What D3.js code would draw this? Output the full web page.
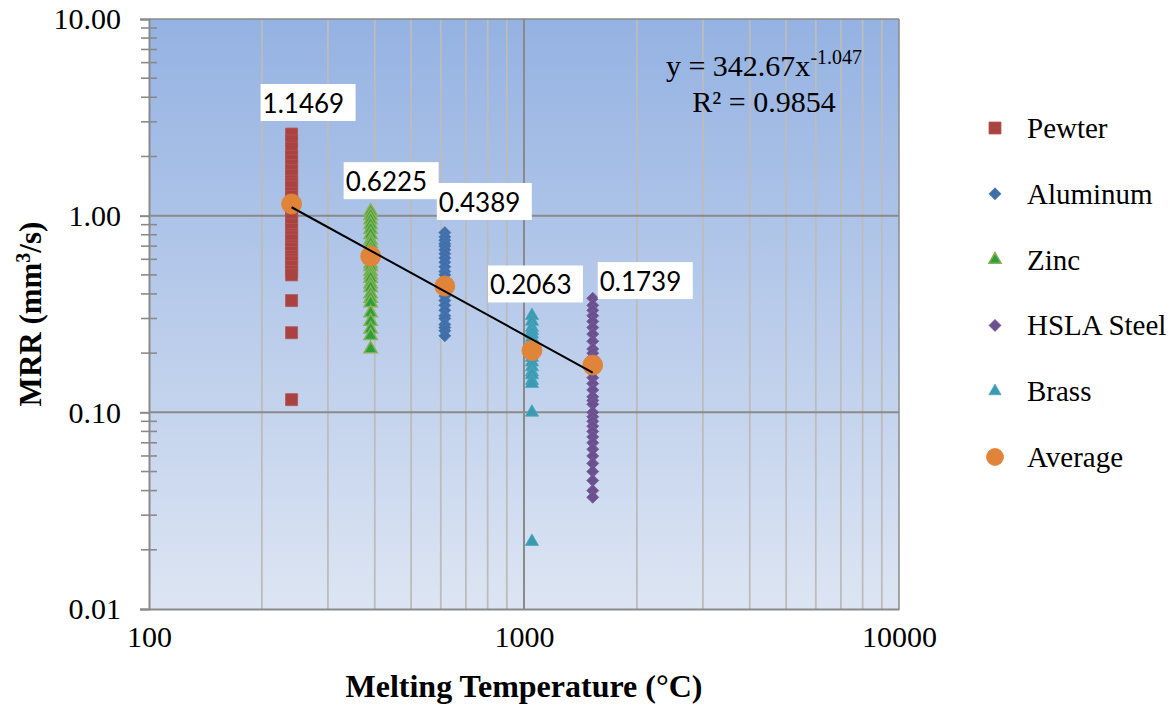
<!DOCTYPE html>
<html>
<head>
<meta charset="utf-8">
<script src="https://cdn.jsdelivr.net/npm/d3@7"></script>
<style>
  body { margin: 0; background: #fff; }
</style>
</head>
<body>
<div id="chart"></div>
<script>
// Данные
const seriesNames = ['Pewter', 'Aluminum', 'Zinc', 'HSLA Steel', 'Brass', 'Average'];
const meltTemps = [240, 615, 390, 1525, 1050];

const pewterMRR = [2.6, 2.4, 2.2, 2.0, 1.9, 1.8, 1.7, 1.6, 1.5, 1.45, 1.4, 1.3, 1.25, 1.2, 1.15,
    1.1, 1.05, 1.0, 0.95, 0.9, 0.85, 0.8, 0.78, 0.75, 0.7, 0.68, 0.65, 0.62, 0.6, 0.58,
    0.55, 0.52, 0.5, 0.37, 0.254, 0.116];
const aluminumMRR = [0.82, 0.78, 0.75, 0.72, 0.7, 0.67, 0.64, 0.61, 0.58, 0.55, 0.52, 0.5, 0.47,
    0.45, 0.43, 0.41, 0.39, 0.37, 0.35, 0.33, 0.31, 0.3, 0.28, 0.27, 0.26, 0.245];
const zincMRR = [1.05, 1.0, 0.95, 0.9, 0.85, 0.8, 0.75, 0.72, 0.68, 0.65, 0.62, 0.6, 0.57, 0.55,
    0.52, 0.5, 0.48, 0.45, 0.43, 0.4, 0.38, 0.36, 0.32, 0.29, 0.265, 0.245, 0.21];
const hslaMRR = [0.38, 0.35, 0.33, 0.31, 0.29, 0.27, 0.25, 0.23, 0.21, 0.2, 0.19, 0.18, 0.17,
    0.16, 0.15, 0.14, 0.13, 0.12, 0.115, 0.11, 0.1, 0.095, 0.09, 0.085, 0.08, 0.075, 0.07,
    0.065, 0.06, 0.055, 0.05, 0.045, 0.04, 0.037];
const brassMRR = [0.31, 0.29, 0.27, 0.26, 0.25, 0.24, 0.23, 0.22, 0.21, 0.2, 0.19, 0.18, 0.17,
    0.16, 0.155, 0.145, 0.14, 0.1, 0.022];

const avgTemps = [240, 390, 615, 1050, 1525];
const avgMRR = [1.1469, 0.6225, 0.4389, 0.2063, 0.1739];

const fitA = 342.67, fitB = -1.047, fitR2 = 0.9854;

const xTicks = [100, 1000, 10000];
const yTicks = [0.01, 0.1, 1, 10];

// Оформление
const SERIF = '"Liberation Serif", "Times New Roman", serif';
const colors = ['#a94341', '#3f6ea9', '#2f9f38', '#6b4f8f', '#3a9ab2', '#e0843a'];
const strokes = ['#b55553', '#4b7ab5', '#86b257', '#7a5f9c', '#4aa8bf', '#e0843a'];
const shapes = ['square', 'diamond', 'triangle', 'diamond', 'triangle', 'circle'];
// смещения подписей средних значений (px от точки)
const labelOffsets = [[-31, -120], [-27, -94], [-8, -103], [-44, -85], [5, -103]];

const W = 1176, H = 710;
const plot = { left: 149, right: 899, top: 19, bottom: 609 };

const svg = d3.select('#chart').append('svg')
    .attr('width', W).attr('height', H)
    .attr('font-family', SERIF);

const x = d3.scaleLog().domain([100, 10000]).range([plot.left, plot.right]);
const y = d3.scaleLog().domain([0.01, 10]).range([plot.bottom, plot.top]);

// Фон с градиентом
const grad = svg.append('defs').append('linearGradient')
    .attr('id', 'bg').attr('x1', 0).attr('y1', 0).attr('x2', 0).attr('y2', 1);
grad.append('stop').attr('offset', '0%').attr('stop-color', '#94b2e2');
grad.append('stop').attr('offset', '100%').attr('stop-color', '#dde5f3');

svg.append('rect')
    .attr('x', plot.left).attr('y', plot.top)
    .attr('width', plot.right - plot.left).attr('height', plot.bottom - plot.top)
    .attr('fill', 'url(#bg)');

// Сетка: вертикальные вспомогательные линии
const xMinor = [];
[100, 1000].forEach(d => { for (let k = 2; k <= 9; k++) xMinor.push(d * k); });
svg.append('g').selectAll('line').data(xMinor).join('line')
    .attr('x1', d => x(d)).attr('x2', d => x(d))
    .attr('y1', plot.top).attr('y2', plot.bottom)
    .attr('stroke', '#bcbcbc').attr('stroke-width', 1.8);

svg.append('g').selectAll('line').data([1000]).join('line')
    .attr('x1', d => x(d)).attr('x2', d => x(d))
    .attr('y1', plot.top).attr('y2', plot.bottom)
    .attr('stroke', '#8a8a8a').attr('stroke-width', 2);

svg.append('g').selectAll('line').data([0.1, 1]).join('line')
    .attr('x1', plot.left).attr('x2', plot.right)
    .attr('y1', d => y(d)).attr('y2', d => y(d))
    .attr('stroke', '#8a8a8a').attr('stroke-width', 2);

// Рамка
svg.append('line').attr('x1', plot.left).attr('x2', plot.right)
    .attr('y1', plot.top).attr('y2', plot.top).attr('stroke', '#8a8a8a').attr('stroke-width', 1.5);
svg.append('line').attr('x1', plot.right).attr('x2', plot.right)
    .attr('y1', plot.top).attr('y2', plot.bottom).attr('stroke', '#8a8a8a').attr('stroke-width', 1.5);

// Ось Y
const yAxis = svg.append('g').attr('transform', `translate(${plot.left},0)`)
    .call(d3.axisLeft(y).tickValues(yTicks).tickFormat(d3.format('.2f')).tickSize(9).tickPadding(19));
yAxis.attr('font-family', SERIF);
yAxis.select('.domain').attr('stroke', '#8a8a8a').attr('stroke-width', 2);
yAxis.selectAll('.tick line').attr('stroke', '#8a8a8a').attr('stroke-width', 2);
yAxis.selectAll('.tick text')
    .attr('font-family', SERIF).attr('font-size', 30)
    .attr('fill', '#000').attr('dy', '0.33em');

const yMinor = [];
[0.01, 0.1, 1].forEach(d => { for (let k = 2; k <= 9; k++) yMinor.push(d * k); });
svg.append('g').selectAll('line').data(yMinor).join('line')
    .attr('x1', plot.left - 8).attr('x2', plot.left + 8)
    .attr('y1', d => y(d)).attr('y2', d => y(d))
    .attr('stroke', '#8a8a8a').attr('stroke-width', 1.6);

// Ось X
const xAxis = svg.append('g').attr('transform', `translate(0,${plot.bottom})`)
    .call(d3.axisBottom(x).tickValues(xTicks).tickFormat(d3.format('d')).tickSize(0).tickPadding(38));
xAxis.attr('font-family', SERIF);
xAxis.select('.domain').attr('stroke', '#8a8a8a').attr('stroke-width', 2);
xAxis.selectAll('.tick text')
    .attr('font-family', SERIF).attr('font-size', 30)
    .attr('fill', '#000').attr('dy', 0);

// Подписи осей
svg.append('text')
    .attr('x', (plot.left + plot.right) / 2).attr('y', 697)
    .attr('text-anchor', 'middle').attr('font-family', SERIF)
    .attr('font-size', 32).attr('font-weight', 'bold')
    .text('Melting Temperature (°C)');

const yTitle = svg.append('text')
    .attr('transform', `translate(41,${(plot.top + plot.bottom) / 2}) rotate(-90)`)
    .attr('text-anchor', 'middle').attr('font-family', SERIF)
    .attr('font-size', 31).attr('font-weight', 'bold');
yTitle.append('tspan').text('MRR (mm');
yTitle.append('tspan').attr('font-size', 20).attr('dy', -11).text('3');
yTitle.append('tspan').attr('dy', 11).text('/s)');

// Маркеры
function symbolPath(shape, size) {
    if (shape === 'square') return d3.symbol(d3.symbolSquare, size * size)();
    if (shape === 'diamond') return d3.symbol(d3.symbolSquare, size * size / 2)();
    if (shape === 'triangle') return d3.symbol(d3.symbolTriangle, size * size * 0.45)();
    return d3.symbol(d3.symbolCircle, Math.PI * size * size / 4)();
}
const markerSize = [12, 12, 13, 12, 13, 20];

function drawMarkers(g, i, pts) {
    g.selectAll('path').data(pts).join('path')
        .attr('d', symbolPath(shapes[i], markerSize[i]))
        .attr('transform', d => `translate(${x(d[0])},${y(d[1])})` + (shapes[i] === 'diamond' ? ' rotate(45)' : ''))
        .attr('fill', colors[i])
        .attr('stroke', strokes[i])
        .attr('stroke-width', i === 2 ? 1.5 : 0.8);
}

const rawSeries = [pewterMRR, aluminumMRR, zincMRR, hslaMRR, brassMRR];
rawSeries.forEach((vals, i) => {
    const pts = vals.map(v => [meltTemps[i], v]);
    drawMarkers(svg.append('g').attr('class', 'series-' + i), i, pts);
});

drawMarkers(svg.append('g').attr('class', 'average'), 5, avgTemps.map((t, j) => [t, avgMRR[j]]));

// Линия тренда (степенная аппроксимация)
const fitX = [avgTemps[0], avgTemps[avgTemps.length - 1]];
svg.append('path')
    .datum(fitX)
    .attr('d', d3.line().x(d => x(d)).y(d => y(fitA * Math.pow(d, fitB))))
    .attr('stroke', '#000').attr('stroke-width', 2).attr('fill', 'none');

// Подписи средних значений
const labels = svg.append('g').selectAll('g').data(avgTemps).join('g')
    .attr('transform', (d, j) => `translate(${x(d) + labelOffsets[j][0]},${y(avgMRR[j]) + labelOffsets[j][1]})`);
labels.append('rect').attr('width', 95).attr('height', 37).attr('fill', '#fff');
labels.append('text')
    .attr('x', 2).attr('y', 29)
    .attr('font-family', 'Lato, "Open Sans", sans-serif').attr('font-size', 26)
    .text((d, j) => avgMRR[j].toFixed(4));

// Уравнение тренда
const eq = svg.append('text').attr('x', 764).attr('y', 76)
    .attr('text-anchor', 'middle').attr('font-family', SERIF).attr('font-size', 30);
eq.append('tspan').text('y = ' + fitA + 'x');
eq.append('tspan').attr('font-size', 20).attr('dy', -12).text(fitB.toFixed(3));
svg.append('text').attr('x', 764).attr('y', 112)
    .attr('text-anchor', 'middle').attr('font-family', SERIF).attr('font-size', 30)
    .text('R² = ' + fitR2);

// Легенда
const legend = svg.append('g').selectAll('g').data(seriesNames).join('g')
    .attr('transform', (d, i) => `translate(995,${128 + i * 65.8})`);
legend.append('path')
    .attr('d', (d, i) => symbolPath(shapes[i], i === 5 ? 17 : 12))
    .attr('transform', (d, i) => shapes[i] === 'diamond' ? 'rotate(45)' : null)
    .attr('fill', (d, i) => colors[i])
    .attr('stroke', (d, i) => strokes[i])
    .attr('stroke-width', (d, i) => i === 2 ? 1.5 : 0.8);
legend.append('text')
    .attr('x', 32).attr('y', 10)
    .attr('font-family', SERIF).attr('font-size', 29)
    .text(d => d);
</script>
</body>
</html>
